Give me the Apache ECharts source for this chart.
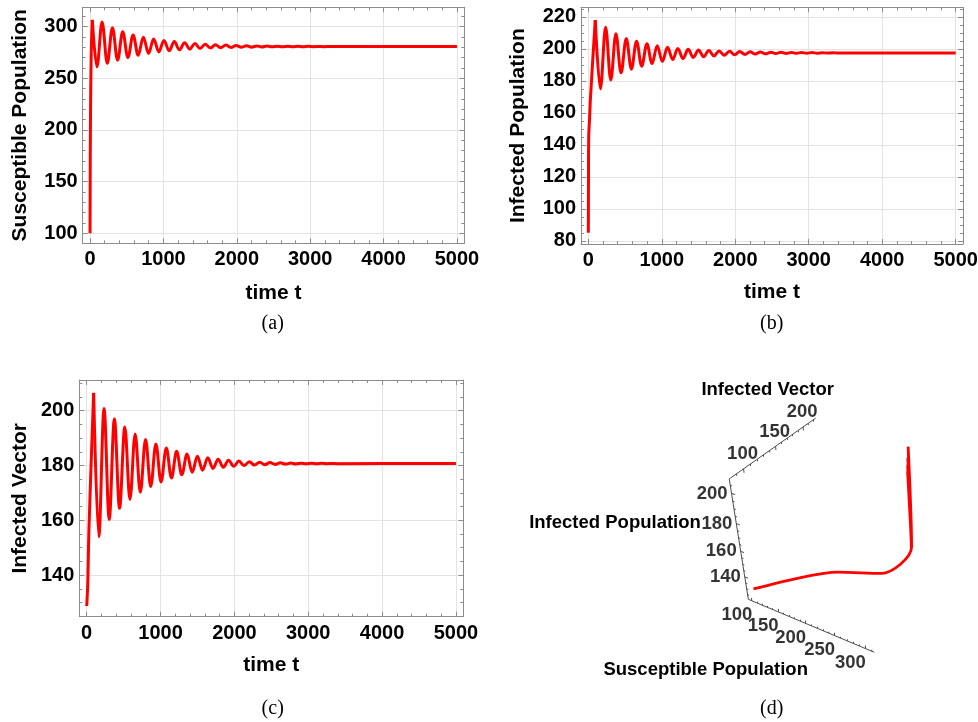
<!DOCTYPE html>
<html>
<head>
<meta charset="utf-8">
<title>Host–vector model dynamics</title>
<script src="https://cdn.jsdelivr.net/npm/echarts@6.0.0/dist/echarts.min.js"></script>
<style>
  html, body { margin: 0; padding: 0; background: #ffffff; }
  #chart { width: 978px; height: 722px; }
</style>
</head>
<body>
<div id="chart"></div>
<script>
// ---------------------------------------------------------------------------
// Data: the three state variables sampled on one shared time grid
// (start-up transient, then the alternating turning points of the damped
// oscillation, then the steady state at t = 5000).
// ---------------------------------------------------------------------------
const timeT = [
  0, 2, 5, 15, 31,
  94, 164, 235, 305, 375, 445, 516, 586, 656, 726, 797, 867, 937, 1007, 1078, 1148,
  1218, 1288, 1359, 1429, 1499, 1569, 1640, 1710, 1780, 1850, 1921, 1991, 2061, 2131,
  2202, 2272, 2342, 2412, 2483, 2553, 2623, 2693, 2764, 2834, 2904, 2974, 3045, 3115,
  3185, 3255, 3326, 3396,
  5000
];

const susceptible = [
  100, 150, 200, 270, 306.5,
  261, 304.5, 264.5, 299, 267.5, 295, 270, 292, 272.3, 289.8, 274, 288, 275.5, 286.6,
  276.6, 285.5, 277.5, 284.5, 278.2, 283.7, 278.8, 283, 279.2, 282.5, 279.55, 282.1,
  279.8, 281.8, 280, 281.55, 280.15, 281.35, 280.3, 281.2, 280.4, 281.1, 280.45, 281,
  280.5, 280.95, 280.55, 280.9, 280.6, 280.85, 280.62, 280.8, 280.65, 280.77,
  280.7
];

const infectedPopulation = [
  85, 120, 145, 155, 171,
  218, 175, 213.5, 180.5, 209.5, 185, 206.5, 187.3, 204.8, 189.2, 203.2, 190.8, 202,
  192.2, 201, 193.3, 200.3, 194, 199.7, 194.6, 199.3, 195.1, 199, 195.6, 198.7, 196,
  198.5, 196.3, 198.3, 196.55, 198.15, 196.75, 198, 196.9, 197.9, 197.05, 197.85,
  197.15, 197.8, 197.22, 197.75, 197.28, 197.7, 197.33, 197.65, 197.37, 197.6, 197.4,
  197.5
];

const infectedVector = [
  128.7, 129.5, 131, 137, 157,
  206.5, 154, 200.8, 160.3, 197, 164.4, 194, 167.6, 191.5, 170.2, 189.5, 172.3, 187.8,
  174, 186.4, 175.4, 185.2, 176.6, 184.2, 177.5, 183.4, 178.3, 182.8, 178.9, 182.3,
  179.35, 181.9, 179.7, 181.6, 179.95, 181.4, 180.15, 181.2, 180.3, 181.05, 180.4,
  180.95, 180.5, 180.9, 180.55, 180.85, 180.6, 180.8, 180.63, 180.77, 180.65, 180.75,
  180.67,
  180.7
];

// ---------------------------------------------------------------------------
// Tick values
// ---------------------------------------------------------------------------
const timeTicks = [0, 1000, 2000, 3000, 4000, 5000];
const susceptibleTicks = [100, 150, 200, 250, 300];
const infectedPopTicks = [80, 100, 120, 140, 160, 180, 200, 220];
const infectedVecTicks = [140, 160, 180, 200];

// 3-D phase portrait: axis ticks (horizontal, vertical and depth axes)
const phaseSusceptibleTicks = [100, 150, 200, 250, 300];
const phaseVerticalTicks = [140, 160, 180, 200];
const phaseDepthTicks = [100, 150, 200];

// ---------------------------------------------------------------------------
// Styling
// ---------------------------------------------------------------------------
const RED = '#ff0000';
const FRAME = '#8c8c8c';
const GRID_LINE = '#e3e3e3';
const SANS = '"Liberation Sans", Arial, Helvetica, sans-serif';
const SERIF = '"Liberation Serif", "Times New Roman", serif';
const tickFont = { color: '#000', fontFamily: SANS, fontWeight: 'bold', fontSize: 20 };
const titleFont = { color: '#000', fontFamily: SANS, fontWeight: 'bold', fontSize: 21 };

function minorValues(lo, hi, step, majorStep) {
  const out = [];
  for (let v = lo; v <= hi + 1e-9; v += step) {
    const r = Math.round(v * 1000) / 1000;
    if (Math.abs(r / majorStep - Math.round(r / majorStep)) > 1e-6) out.push(r);
  }
  return out;
}

const option = {
  animation: false,
  backgroundColor: '#ffffff',
  grid: [],
  xAxis: [],
  yAxis: [],
  series: [],
  graphic: []
};

// A framed time-series panel: ticks on all four sides, light grid lines.
function addTimePanel(p) {
  const g = option.grid.length;
  option.grid.push({ left: p.left, top: p.top, width: p.width, height: p.height,
                     containLabel: false, outerBoundsMode: 'none' });

  const xMinor = minorValues(0, 5000, 200, 1000);
  const base = (axisRange) => ({ type: 'value', gridIndex: g, min: axisRange[0], max: axisRange[1] });
  const frameLine = { show: true, onZero: false, lineStyle: { color: FRAME, width: 1 } };
  const noLine = { show: false, onZero: false };

  const xMainIndex = option.xAxis.length;
  option.xAxis.push(Object.assign(base(p.xRange), {
    position: 'bottom',
    axisLine: frameLine,
    axisTick: { show: true, inside: true, length: 5, customValues: timeTicks, lineStyle: { color: FRAME } },
    axisLabel: Object.assign({ show: true, customValues: timeTicks, margin: p.xLabelMargin,
                               formatter: v => String(v) }, tickFont),
    splitLine: { show: true, lineStyle: { color: GRID_LINE, width: 1 } },
    name: 'time t', nameLocation: 'middle', nameGap: p.xNameGap, nameTextStyle: titleFont
  }));
  option.xAxis.push(Object.assign(base(p.xRange), {
    position: 'bottom', axisLine: noLine,
    axisTick: { show: true, inside: true, length: 3, customValues: xMinor, lineStyle: { color: FRAME } },
    axisLabel: { show: false }, splitLine: { show: false }
  }));
  option.xAxis.push(Object.assign(base(p.xRange), {
    position: 'top', axisLine: frameLine,
    axisTick: { show: true, inside: true, length: 5, customValues: timeTicks, lineStyle: { color: FRAME } },
    axisLabel: { show: false }, splitLine: { show: false }
  }));
  option.xAxis.push(Object.assign(base(p.xRange), {
    position: 'top', axisLine: noLine,
    axisTick: { show: true, inside: true, length: 3, customValues: xMinor, lineStyle: { color: FRAME } },
    axisLabel: { show: false }, splitLine: { show: false }
  }));

  const yMainIndex = option.yAxis.length;
  option.yAxis.push(Object.assign(base(p.yRange), {
    position: 'left',
    axisLine: frameLine,
    axisTick: { show: true, inside: true, length: 5, customValues: p.yTicks, lineStyle: { color: FRAME } },
    axisLabel: Object.assign({ show: true, customValues: p.yTicks, margin: 5,
                               formatter: v => String(v) }, tickFont),
    splitLine: { show: true, lineStyle: { color: GRID_LINE, width: 1 } },
    name: p.yName, nameLocation: 'middle', nameGap: p.yNameGap, nameTextStyle: titleFont
  }));
  option.yAxis.push(Object.assign(base(p.yRange), {
    position: 'left', axisLine: noLine,
    axisTick: { show: true, inside: true, length: 3, customValues: p.yMinor, lineStyle: { color: FRAME } },
    axisLabel: { show: false }, splitLine: { show: false }
  }));
  option.yAxis.push(Object.assign(base(p.yRange), {
    position: 'right', axisLine: frameLine,
    axisTick: { show: true, inside: true, length: 5, customValues: p.yTicks, lineStyle: { color: FRAME } },
    axisLabel: { show: false }, splitLine: { show: false }
  }));
  option.yAxis.push(Object.assign(base(p.yRange), {
    position: 'right', axisLine: noLine,
    axisTick: { show: true, inside: true, length: 3, customValues: p.yMinor, lineStyle: { color: FRAME } },
    axisLabel: { show: false }, splitLine: { show: false }
  }));

  const points = timeT.map((t, k) => [t, p.values[k]]);
  const lineStyle = { color: RED, width: 3 };
  // start-up rise: ordinary smoothing keeps the steep climb straight
  option.series.push({
    type: 'line', xAxisIndex: xMainIndex, yAxisIndex: yMainIndex,
    data: points.slice(0, p.riseEnd + 1),
    showSymbol: false, smooth: 0.36, lineStyle: lineStyle, z: 5
  });
  // damped oscillation: turning points joined with flat tangents
  option.series.push({
    type: 'line', xAxisIndex: xMainIndex, yAxisIndex: yMainIndex,
    data: points.slice(p.riseEnd),
    showSymbol: false, smooth: 0.36, smoothMonotone: 'x', lineStyle: lineStyle, z: 5
  });
}

addTimePanel({
  left: 82.7, top: 7.3, width: 381.6, height: 236,
  xRange: [-100, 5100], yRange: [90.3, 318.7],
  yTicks: susceptibleTicks, yMinor: minorValues(100, 310, 10, 50),
  yName: 'Susceptible Population', yNameGap: 52, xNameGap: 39, xLabelMargin: 6,
  values: susceptible, riseEnd: 4
});
addTimePanel({
  left: 581, top: 7.3, width: 382, height: 236.7,
  xRange: [-100, 5100], yRange: [78, 226],
  yTicks: infectedPopTicks, yMinor: minorValues(80, 225, 5, 20),
  yName: 'Infected Population', yNameGap: 52, xNameGap: 38, xLabelMargin: 6,
  values: infectedPopulation, riseEnd: 5
});
addTimePanel({
  left: 79.3, top: 380, width: 384, height: 236.7,
  xRange: [-100, 5100], yRange: [124.8, 211.2],
  yTicks: infectedVecTicks, yMinor: minorValues(125, 210, 5, 20),
  yName: 'Infected Vector', yNameGap: 49, xNameGap: 38, xLabelMargin: 6.5,
  values: infectedVector, riseEnd: 5
});

// ---------------------------------------------------------------------------
// Panel (d): perspective view of the trajectory (S, I, V) inside a cube box.
// ---------------------------------------------------------------------------
const BOX_S = [93, 314];     // horizontal axis range
const BOX_I = [80, 225];     // depth axis range
const BOX_V = [121, 209];    // vertical axis range
const VIEW_POINT = [1.3, -2.4, 2];
const PX_PER_UNIT = 490;
const CORNER_PX = [748.3, 599.3];          // screen spot of the (Smin, Imin, Vmin) corner
const PHASE_GRID = { left: 500, top: 360, width: 478, height: 362 };

const cam = (() => {
  const c = VIEW_POINT;
  const n = Math.hypot(c[0], c[1], c[2]);
  const f = c.map(v => -v / n);
  let r = [f[1], -f[0], 0];
  const rn = Math.hypot(r[0], r[1]);
  r = r.map(v => v / rn);
  const u = [r[1] * f[2] - r[2] * f[1], r[2] * f[0] - r[0] * f[2], r[0] * f[1] - r[1] * f[0]];
  return { c, f, r, u };
})();
const dot = (a, b) => a[0] * b[0] + a[1] * b[1] + a[2] * b[2];

function toBox(s, i, v) {
  return [
    (s - BOX_S[0]) / (BOX_S[1] - BOX_S[0]) - 0.5,
    (i - BOX_I[0]) / (BOX_I[1] - BOX_I[0]) - 0.5,
    (v - BOX_V[0]) / (BOX_V[1] - BOX_V[0]) - 0.5
  ];
}
function projectBox(b) {
  const d = [b[0] - cam.c[0], b[1] - cam.c[1], b[2] - cam.c[2]];
  const depth = dot(d, cam.f);
  return [dot(d, cam.r) / depth, dot(d, cam.u) / depth];
}
const project = (s, i, v) => projectBox(toBox(s, i, v));

const corner = projectBox([-0.5, -0.5, -0.5]);
const phX0 = corner[0] - (CORNER_PX[0] - PHASE_GRID.left) / PX_PER_UNIT;
const phY1 = corner[1] + (CORNER_PX[1] - PHASE_GRID.top) / PX_PER_UNIT;

const gPhase = option.grid.length;
option.grid.push(Object.assign({ containLabel: false, outerBoundsMode: 'none' }, PHASE_GRID));
const phXi = option.xAxis.length;
option.xAxis.push({ type: 'value', gridIndex: gPhase, show: false,
  min: phX0, max: phX0 + PHASE_GRID.width / PX_PER_UNIT });
const phYi = option.yAxis.length;
option.yAxis.push({ type: 'value', gridIndex: gPhase, show: false,
  min: phY1 - PHASE_GRID.height / PX_PER_UNIT, max: phY1 });

// box edges carrying the three axes
const S0 = BOX_S[0], S1 = BOX_S[1], I0 = BOX_I[0], I1 = BOX_I[1], V0 = BOX_V[0], V1 = BOX_V[1];
const edges = [
  [project(S0, I0, V0), project(S1, I0, V0)],   // horizontal axis
  [project(S0, I0, V0), project(S0, I0, V1)],   // vertical axis
  [project(S0, I0, V1), project(S0, I1, V1)]    // depth axis
];

// tick marks: short strokes in box space
const tickSegs = [];
function addTicks(values, minor, pointAt, dir) {
  values.forEach(val => {
    const b = pointAt(val);
    tickSegs.push([projectBox(b), projectBox([b[0] + dir[0] * 0.028, b[1] + dir[1] * 0.028, b[2] + dir[2] * 0.028])]);
  });
  minor.forEach(val => {
    const b = pointAt(val);
    tickSegs.push([projectBox(b), projectBox([b[0] + dir[0] * 0.014, b[1] + dir[1] * 0.014, b[2] + dir[2] * 0.014])]);
  });
}
addTicks(phaseSusceptibleTicks, minorValues(100, 310, 10, 50), s => toBox(s, I0, V0), [0, 0, 1]);
addTicks(phaseVerticalTicks, minorValues(125, 205, 5, 20), v => toBox(S0, I0, v), [1, 0, 0]);
addTicks(phaseDepthTicks, minorValues(90, 220, 10, 50), i => toBox(S0, i, V1), [0, 0, -1]);

option.series.push({
  type: 'lines', coordinateSystem: 'cartesian2d', xAxisIndex: phXi, yAxisIndex: phYi,
  data: edges.concat(tickSegs).map(seg => ({ coords: seg })),
  lineStyle: { color: '#4d4d4d', width: 1, opacity: 1 },
  silent: true, z: 2
});

const phaseFont = { color: '#000', fontFamily: SANS, fontWeight: 'bold', fontSize: 18.5 };
function tickLabelSeries(values, pointAt, labelCfg) {
  return {
    type: 'scatter', xAxisIndex: phXi, yAxisIndex: phYi, symbolSize: 0, silent: true,
    data: values.map(v => ({ name: String(v), value: pointAt(v) })),
    label: Object.assign({ show: true, formatter: '{b}' }, phaseFont, labelCfg),
    z: 3
  };
}
option.series.push(tickLabelSeries(phaseSusceptibleTicks, s => project(s, I0, V0),
  { position: 'inside', offset: [-15, 14] }));
option.series.push(tickLabelSeries(phaseVerticalTicks, v => project(S0, I0, v),
  { position: 'left', distance: 4 }));
option.series.push(tickLabelSeries(phaseDepthTicks, i => project(S0, i, V1),
  { position: 'inside', offset: [-1, -14.5] }));

// the trajectory itself
option.series.push({
  type: 'line', xAxisIndex: phXi, yAxisIndex: phYi,
  data: timeT.map((t, k) => project(susceptible[k], infectedPopulation[k], infectedVector[k])),
  showSymbol: false, smooth: 0.3,
  lineStyle: { color: RED, width: 2.8 },
  clip: false, z: 5
});

// ---------------------------------------------------------------------------
// Axis titles of the 3-D panel and sub-figure captions
// ---------------------------------------------------------------------------
function centeredText(text, x, y, font) {
  return { type: 'text', x: x, y: y, silent: true,
    style: { text: text, x: 0, y: 0, align: 'center', verticalAlign: 'middle', font: font, fill: '#000' } };
}
const phaseTitleFont = 'bold 18.5px ' + SANS;
option.graphic.push(centeredText('Infected Vector', 767.7, 390, phaseTitleFont));
option.graphic.push(centeredText('Infected Population', 615, 523.3, phaseTitleFont));
option.graphic.push(centeredText('Susceptible Population', 705.7, 670, phaseTitleFont));

const captionFont = '20px ' + SERIF;
option.graphic.push(centeredText('(a)', 272.7, 323.3, captionFont));
option.graphic.push(centeredText('(b)', 771.7, 323.3, captionFont));
option.graphic.push(centeredText('(c)', 272.7, 708.3, captionFont));
option.graphic.push(centeredText('(d)', 771.7, 708.3, captionFont));

const chart = echarts.init(document.getElementById('chart'), null, { renderer: 'canvas' });
chart.setOption(option);
</script>
</body>
</html>
